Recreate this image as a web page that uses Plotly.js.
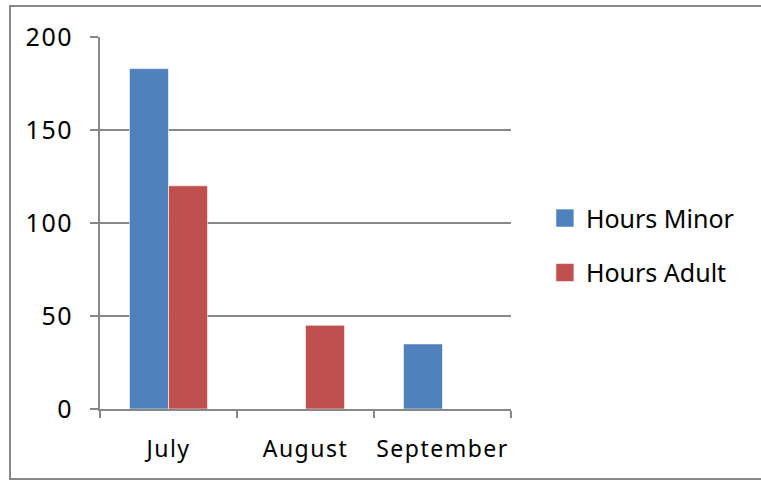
<!DOCTYPE html>
<html>
<head>
<meta charset="utf-8">
<script src="https://cdn.plot.ly/plotly-3.0.1.min.js"></script>
<style>
html,body{margin:0;padding:0;background:#fff;}
#wrap{position:relative;width:761px;height:483px;overflow:hidden;}
#chart{position:absolute;left:0;top:0;width:761px;height:483px;}
#frame{position:absolute;left:9px;top:5px;width:800px;height:475px;border:2px solid #888;box-sizing:border-box;pointer-events:none;}
#chart .xtick text, #chart .ytick text{letter-spacing:1.5px;}
</style>
</head>
<body>
<div id="wrap"><div id="chart"></div><div id="frame"></div></div>
<script>
const months = ["July", "August", "September"];
const hoursMinor = [183, 0, 35];
const hoursAdult = [120, 45, 0];
const seriesNames = ["Hours Minor", "Hours Adult"];
const yTicks = [0, 50, 100, 150, 200];

const fontFam = "'Noto Sans', 'Open Sans', sans-serif";
const traces = [
  {type: "bar", name: seriesNames[0], x: months, y: hoursMinor, legendgroup: "a",
   marker: {color: "#4F81BD", line: {color: "rgba(255,255,255,0.6)", width: 1}}},
  {type: "bar", name: seriesNames[1], x: months, y: hoursAdult, legendgroup: "b",
   marker: {color: "#C0504D", line: {color: "rgba(255,255,255,0.6)", width: 1}}}
];
const layout = {
  width: 761, height: 483,
  margin: {l: 100, r: 250, t: 37, b: 74, pad: 0},
  paper_bgcolor: "#fff", plot_bgcolor: "#fff",
  barmode: "group", bargap: 0.43, bargroupgap: 0,
  font: {family: fontFam, size: 23, color: "#000"},
  xaxis: {
    type: "category", showline: true, linecolor: "#888", linewidth: 2,
    ticks: "outside", ticklen: 7, tickwidth: 2, tickcolor: "#888",
    tickson: "boundaries", showgrid: false, ticklabelstandoff: 18,
    tickfont: {family: fontFam, size: 23, color: "#000"}
  },
  yaxis: {
    range: [0, 200], tickvals: yTicks, showline: true, linecolor: "#888", linewidth: 2,
    ticks: "outside", ticklen: 8, tickwidth: 2, tickcolor: "#888",
    showgrid: true, gridcolor: "#888", gridwidth: 2, zeroline: false,
    ticklabelstandoff: 12,
    tickfont: {family: fontFam, size: 25, color: "#000"}
  },
  legend: {
    x: 1.085, xanchor: "left", y: 0.44, yanchor: "middle",
    font: {family: fontFam, size: 25, color: "#000"},
    traceorder: "grouped", tracegroupgap: 19, itemwidth: 30,
    bgcolor: "rgba(0,0,0,0)"
  },
  showlegend: true
};
Plotly.newPlot("chart", traces, layout, {displayModeBar: false, staticPlot: true}).then(function (gd) {
  gd.querySelectorAll(".legendpoints path").forEach(function (p) {
    p.setAttribute("d", "M-10,-9H8V9H-10Z");
  });
});
</script>
</body>
</html>
